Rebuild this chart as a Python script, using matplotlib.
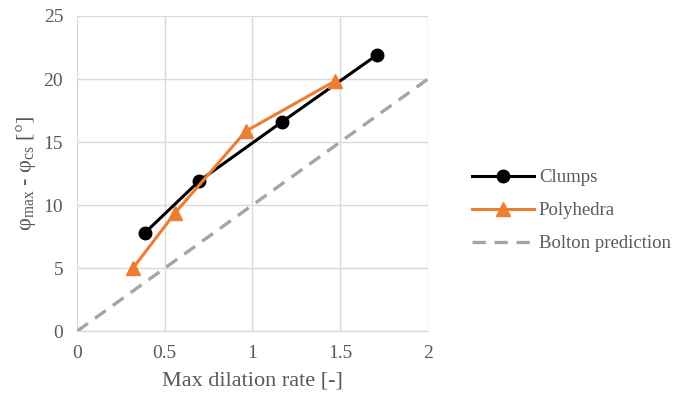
import matplotlib
matplotlib.use("Agg")
import matplotlib.pyplot as plt

# data
clumps_x = [0.387, 0.695, 1.168, 1.709]
clumps_y = [7.8, 11.9, 16.6, 21.9]
poly_x = [0.319, 0.558, 0.963, 1.470]
poly_y = [5.0, 9.37, 15.87, 19.84]
bolton_x = [0, 2]
bolton_y = [0, 20]

x_ticks = [0, 0.5, 1, 1.5, 2]
x_labels = ['0', '0.5', '1', '1.5', '2']
y_ticks = [0, 5, 10, 15, 20, 25]

plt.rcParams['font.family'] = ['Liberation Serif', 'DejaVu Serif']
plt.rcParams['mathtext.fontset'] = 'custom'
plt.rcParams['mathtext.rm'] = 'Liberation Serif'
plt.rcParams['mathtext.it'] = 'Liberation Serif:italic'

txt = '#595959'
grid = '#d9d9d9'

fig = plt.figure(figsize=(6.88, 3.99), dpi=100)
ax = fig.add_axes([0.112, 0.170, 0.510, 0.790])

ax.plot(clumps_x, clumps_y, '-o', color='black', lw=2.2, ms=9, label='Clumps', zorder=4)
ax.plot(poly_x, poly_y, '-^', color='#ed7d31', lw=2.2, ms=9.5, label='Polyhedra', zorder=5)
ax.plot(bolton_x, bolton_y, '--', color='#a5a5a5', lw=2.4, dashes=(4, 2.6), label='Bolton prediction', zorder=3)

ax.set_xlim(0, 2)
ax.set_ylim(0, 25)
ax.set_xticks(x_ticks)
ax.set_xticklabels(x_labels)
ax.set_yticks(y_ticks)
ax.grid(True, color=grid, lw=1)
ax.set_axisbelow(True)
for s in ['top', 'right', 'left']:
    ax.spines[s].set_visible(False)
ax.spines['bottom'].set_color(grid)
ax.spines['bottom'].set_linewidth(1)
ax.tick_params(axis='both', length=0, labelsize=14, colors=txt, pad=10)

ax.set_xlabel('Max dilation rate [-]', fontsize=16, color=txt, labelpad=7)
ax.set_ylabel('φ$_{\\mathrm{max}}$ - φ$_{\\mathrm{cs}}$ [°]', fontsize=16, color=txt, labelpad=4)

leg = fig.legend(loc='center left', bbox_to_anchor=(0.662, 0.472), frameon=False,
                 fontsize=13.5, handlelength=3.3, labelspacing=0.85, handletextpad=0.25)
for t in leg.get_texts():
    t.set_color(txt)

fig.savefig('out.png', dpi=100)
